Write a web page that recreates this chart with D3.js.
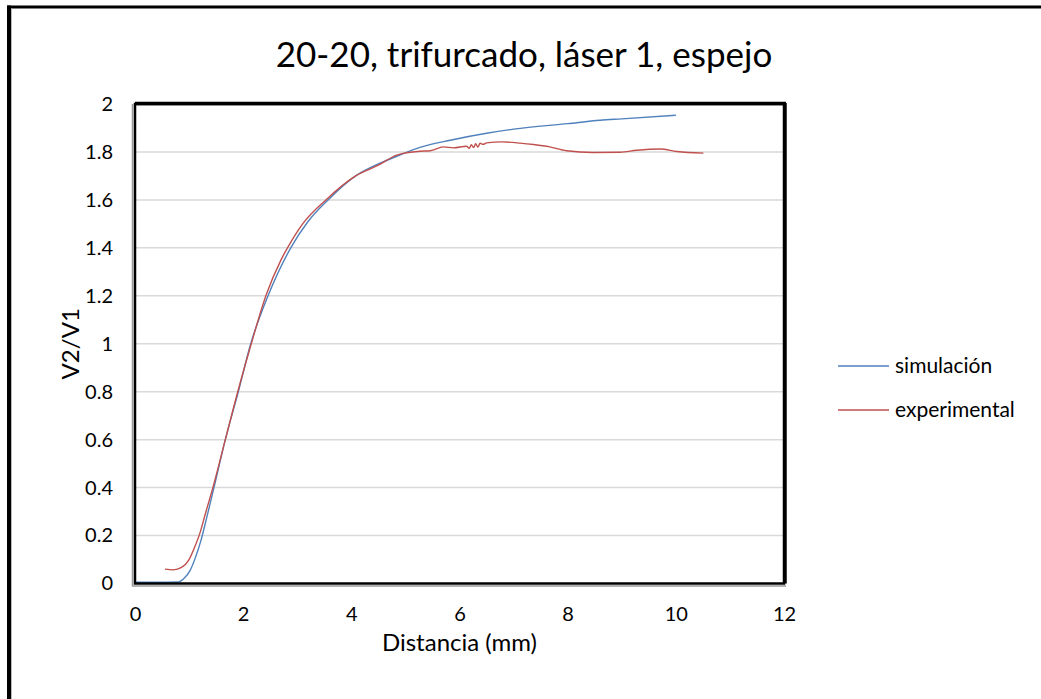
<!DOCTYPE html>
<html>
<head>
<meta charset="utf-8">
<script src="https://cdn.jsdelivr.net/npm/d3@7"></script>
<style>
  html, body { margin: 0; padding: 0; background: #fff; }
  svg { display: block; font-family: Lato, "Open Sans", "Liberation Sans", sans-serif; }
</style>
</head>
<body>
<svg id="chart" width="1041" height="699"></svg>
<script>
// Distance (mm) and V2/V1 ratio for each series
const simX = [0, 0.4, 0.79, 0.9, 1.02, 1.12, 1.22, 1.31, 1.46, 1.67, 1.91, 2.14, 2.46, 2.88, 3.2, 3.57, 4.1, 4.5, 4.84, 5.27, 5.83, 6.5, 7.0, 8.0, 8.6, 9.0, 10.0];
const simY = [0.005, 0.005, 0.006, 0.02, 0.055, 0.11, 0.18, 0.26, 0.4, 0.6, 0.8, 1.0, 1.2, 1.4, 1.51, 1.6, 1.703, 1.75, 1.782, 1.819, 1.849, 1.878, 1.895, 1.918, 1.932, 1.938, 1.953];

const expX = [0.555, 0.71, 0.86, 1.0, 1.1, 1.2, 1.3, 1.44, 1.67, 1.9, 2.15, 2.42, 2.7, 2.82, 3.1, 3.53, 4.08, 4.5, 4.84, 5.27, 5.46, 5.7, 5.89, 6.13, 6.18, 6.22, 6.26, 6.3, 6.34, 6.38, 6.44, 6.5, 6.78, 7.12, 7.37, 7.67, 7.98, 8.47, 8.97, 9.28, 9.71, 10.02, 10.51];
const expY = [0.06, 0.057, 0.067, 0.1, 0.15, 0.21, 0.29, 0.4, 0.6, 0.8, 1.0, 1.2, 1.35, 1.4, 1.5, 1.6, 1.7, 1.745, 1.787, 1.803, 1.805, 1.821, 1.817, 1.824, 1.815, 1.83, 1.818, 1.834, 1.82, 1.836, 1.832, 1.838, 1.842, 1.837, 1.831, 1.821, 1.805, 1.798, 1.799, 1.807, 1.812, 1.802, 1.795];

const xTicks = [0, 2, 4, 6, 8, 10, 12];
const yTicks = [0, 0.2, 0.4, 0.6, 0.8, 1, 1.2, 1.4, 1.6, 1.8, 2];
const seriesNames = ["simulación", "experimental"];
const seriesColors = ["#4F81BD", "#C0504D"];

const svg = d3.select("#chart");
const plot = { left: 135, right: 784, top: 104, bottom: 583.5 };

const x = d3.scaleLinear().domain([0, 12]).range([plot.left, plot.right]);
const y = d3.scaleLinear().domain([0, 2]).range([plot.bottom, plot.top]);

// Outer chart frame (left and top edges)
svg.append("line").attr("x1", 9).attr("x2", 9).attr("y1", 5.5).attr("y2", 699)
  .attr("stroke", "#000").attr("stroke-width", 4);
svg.append("line").attr("x1", 7).attr("x2", 1041).attr("y1", 7).attr("y2", 7)
  .attr("stroke", "#000").attr("stroke-width", 3);
svg.append("line").attr("x1", 11.5).attr("x2", 11.5).attr("y1", 8.5).attr("y2", 699)
  .attr("stroke", "#bbb").attr("stroke-width", 1);

// Title
svg.append("text")
  .attr("x", 524).attr("y", 67)
  .attr("text-anchor", "middle")
  .attr("font-size", 35)
  .attr("fill", "#000")
  .text("20-20, trifurcado, láser 1, espejo");

// Horizontal gridlines
svg.append("g")
  .selectAll("line")
  .data(yTicks.filter(v => v > 0 && v < 2))
  .join("line")
  .attr("x1", plot.left).attr("x2", plot.right)
  .attr("y1", d => y(d)).attr("y2", d => y(d))
  .attr("stroke", "#d9d9d9").attr("stroke-width", 1.5);

// Y axis tick labels
const yAxis = d3.axisLeft(y).tickValues(yTicks).tickSize(0).tickPadding(22)
  .tickFormat(d => String(d));
const gy = svg.append("g").attr("transform", `translate(${plot.left},0)`).call(yAxis);
gy.select(".domain").remove();
gy.selectAll("text").attr("font-size", 20).attr("fill", "#000")
  .attr("font-family", "Lato, 'Open Sans', sans-serif");

// X axis tick labels
const xAxis = d3.axisBottom(x).tickValues(xTicks).tickSize(0).tickPadding(23)
  .tickFormat(d => String(d));
const gx = svg.append("g").attr("transform", `translate(0,${plot.bottom})`).call(xAxis);
gx.select(".domain").remove();
gx.selectAll("text").attr("font-size", 20).attr("fill", "#000")
  .attr("font-family", "Lato, 'Open Sans', sans-serif");

// Axis titles
svg.append("text")
  .attr("x", (plot.left + plot.right) / 2).attr("y", 651)
  .attr("text-anchor", "middle").attr("font-size", 24).attr("fill", "#000")
  .text("Distancia (mm)");
svg.append("text")
  .attr("transform", `translate(79,${(plot.top + plot.bottom) / 2}) rotate(-90)`)
  .attr("text-anchor", "middle").attr("font-size", 24).attr("fill", "#000")
  .text("V2/V1");

// Series lines
const line = d3.line().curve(d3.curveMonotoneX).x(d => x(d[0])).y(d => y(d[1]));
const series = [
  d3.zip(simX, simY),
  d3.zip(expX, expY)
];
svg.append("g")
  .selectAll("path")
  .data(series)
  .join("path")
  .attr("d", d => line(d))
  .attr("fill", "none")
  .attr("stroke", (d, i) => seriesColors[i])
  .attr("stroke-width", 1.4)
  .attr("stroke-linejoin", "round");

// Plot area frame
svg.append("line").attr("x1", plot.left - 2.5).attr("x2", plot.left - 2.5)
  .attr("y1", plot.top).attr("y2", plot.bottom + 3)
  .attr("stroke", "#999").attr("stroke-width", 1.5);
svg.append("line").attr("x1", plot.left - 2.5).attr("x2", plot.right + 2)
  .attr("y1", plot.bottom + 2.5).attr("y2", plot.bottom + 2.5)
  .attr("stroke", "#999").attr("stroke-width", 1.5);
svg.append("rect")
  .attr("x", plot.left).attr("y", plot.top)
  .attr("width", plot.right - plot.left).attr("height", plot.bottom - plot.top)
  .attr("fill", "none").attr("stroke", "#000").attr("stroke-width", 2.5);
svg.append("line").attr("x1", plot.right + 1).attr("x2", plot.right + 1)
  .attr("y1", plot.top - 1).attr("y2", plot.bottom)
  .attr("stroke", "#000").attr("stroke-width", 3.5);
svg.append("line").attr("x1", plot.left).attr("x2", plot.right + 2)
  .attr("y1", plot.top - 0.5).attr("y2", plot.top - 0.5)
  .attr("stroke", "#000").attr("stroke-width", 3.5);

// Legend
const legend = svg.append("g")
  .selectAll("g")
  .data(seriesNames)
  .join("g")
  .attr("transform", (d, i) => `translate(838,${366 + i * 44})`);
legend.append("line").attr("x1", 0).attr("x2", 51).attr("y1", 0).attr("y2", 0)
  .attr("stroke", (d, i) => seriesColors[i]).attr("stroke-width", 1.4);
legend.append("text").attr("x", 57).attr("y", 7)
  .attr("font-size", 21).attr("fill", "#000")
  .text(d => d);
</script>
</body>
</html>
